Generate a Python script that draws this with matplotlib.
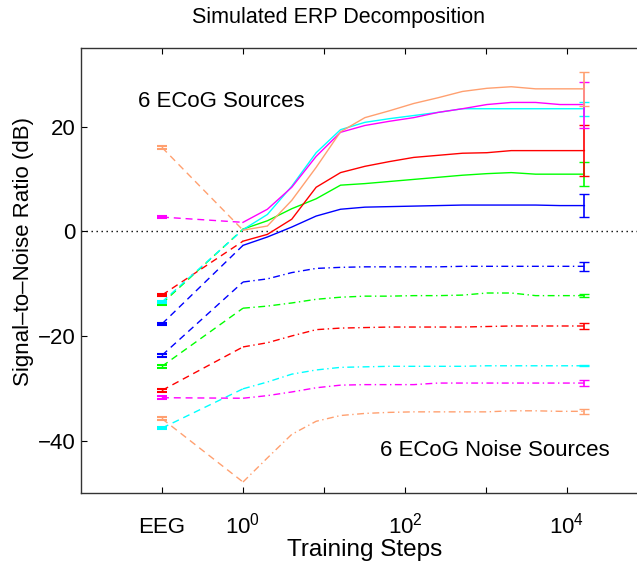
import numpy as np
import matplotlib
matplotlib.use("Agg")
import matplotlib.pyplot as plt

plt.rcParams['font.family'] = ['Liberation Sans', 'DejaVu Sans']
plt.rcParams['mathtext.fontset'] = 'custom'
plt.rcParams['mathtext.rm'] = 'Liberation Sans'

# ---------------- data ----------------
eeg_x = 0.1
steps = [1, 2, 4, 8, 16, 32, 64, 128, 256, 512, 1024, 2048, 4096, 8192, 16384]
series_names = ['blue', 'green', 'red', 'cyan', 'magenta', 'orange']
series_colors = ['#0000ff', '#00ff00', '#ff0000', '#00ffff', '#ff00ff', '#ffa070']

# signal (ECoG sources) SNR in dB
sig_blue = [-2.7, -1.1, 0.8, 2.9, 4.2, 4.6, 4.7, 4.8, 4.9, 5.0, 5.0, 5.0, 5.0, 4.9, 4.9]
sig_green = [0.4, 2.0, 4.3, 6.2, 8.8, 9.1, 9.5, 9.9, 10.3, 10.7, 11.0, 11.2, 10.9, 10.9, 10.9]
sig_red = [-1.9, -0.6, 2.3, 8.4, 11.2, 12.4, 13.3, 14.1, 14.5, 14.9, 15.0, 15.4, 15.4, 15.4, 15.4]
sig_cyan = [0.3, 3.2, 8.6, 15.0, 19.4, 20.8, 21.5, 22.1, 22.7, 23.4, 23.4, 23.4, 23.4, 23.4, 23.4]
sig_magenta = [1.7, 4.2, 8.4, 14.3, 18.9, 20.2, 21.0, 21.7, 22.7, 23.4, 24.2, 24.6, 24.6, 24.2, 24.2]
sig_orange = [0.2, 1.0, 5.9, 12.2, 19.0, 21.7, 23.0, 24.4, 25.5, 26.7, 27.3, 27.6, 27.2, 27.2, 27.2]

# noise (ECoG noise sources) SNR in dB
noise_blue = [-9.7, -9.1, -7.9, -7.1, -6.9, -6.8, -6.8, -6.8, -6.8, -6.7, -6.7, -6.7, -6.7, -6.7, -6.7]
noise_green = [-14.7, -14.3, -13.7, -13.0, -12.6, -12.4, -12.4, -12.3, -12.3, -12.2, -11.8, -11.8, -12.3, -12.3, -12.3]
noise_red = [-22.1, -21.3, -20.0, -18.8, -18.5, -18.4, -18.3, -18.3, -18.3, -18.3, -18.2, -18.1, -18.1, -18.1, -18.1]
noise_cyan = [-30.1, -28.8, -27.3, -26.5, -26.0, -25.9, -25.8, -25.8, -25.8, -25.8, -25.7, -25.7, -25.7, -25.7, -25.7]
noise_magenta = [-31.9, -31.4, -30.7, -29.9, -29.4, -29.3, -29.3, -29.3, -29.0, -29.0, -29.0, -29.0, -29.0, -29.0, -29.0]
noise_orange = [-47.9, -43.3, -38.8, -36.3, -35.2, -34.8, -34.6, -34.5, -34.5, -34.5, -34.5, -34.3, -34.3, -34.4, -34.4]

# EEG (before training) values
sig_eeg = [-17.7, -13.8, -12.2, -13.5, 2.7, 16.0]
noise_eeg = [-23.7, -25.8, -30.4, -37.6, -31.8, -35.8]
eeg_err = [0.25, 0.25, 0.25, 0.25, 0.25, 0.25]

# final error bars (half widths)
sig_err = [2.2, 2.3, 4.8, 1.3, 4.4, 3.3]
noise_err = [0.9, 0.3, 0.6, 0.1, 0.55, 0.5]

signals = [sig_blue, sig_green, sig_red, sig_cyan, sig_magenta, sig_orange]
noises = [noise_blue, noise_green, noise_red, noise_cyan, noise_magenta, noise_orange]

xticks = [0.1, 1, 10, 100, 1000, 10000]
xticklabels = ['EEG', r'$\mathregular{10^{0}}$', '', r'$\mathregular{10^{2}}$', '', r'$\mathregular{10^{4}}$']
yticks = [-40, -20, 0, 20]

# ---------------- figure ----------------
W, H = 637, 565
fig = plt.figure(figsize=(W / 100, H / 100), dpi=100)
left, right, top, bottom = 81, 648, 48, 493
ax = fig.add_axes([left / W, 1 - bottom / H, (right - left) / W, (bottom - top) / H])
ax.set_xscale('log')
ax.set_xlim(0.01, 1e5)
ax.set_ylim(-50, 35)

lw = 1.0
dash = (0, (5, 3.5))
dashdot = (0, (5, 2.5, 1, 2.5))

ax.axhline(0, color='black', lw=1.0, linestyle=(0, (1, 2.6)), zorder=1)

for i, c in enumerate(series_colors):
    s = signals[i]
    n = noises[i]
    ax.plot([eeg_x, steps[0]], [sig_eeg[i], s[0]], color=c, lw=lw, linestyle=dash)
    ax.plot([eeg_x, steps[0]], [noise_eeg[i], n[0]], color=c, lw=lw, linestyle=dash)
    ax.plot(steps, s, color=c, lw=lw, linestyle='-')
    ax.plot(steps, n, color=c, lw=lw, linestyle=dashdot)
    ax.errorbar([eeg_x], [sig_eeg[i]], yerr=[eeg_err[i]], color=c, lw=lw, capsize=3.5, capthick=1.5, fmt='none')
    ax.errorbar([eeg_x], [noise_eeg[i]], yerr=[eeg_err[i]], color=c, lw=lw, capsize=3.5, capthick=1.5, fmt='none')
    ax.errorbar([steps[-1]], [s[-1]], yerr=[sig_err[i]], color=c, lw=1.2, capsize=3.5, fmt='none')
    ax.errorbar([steps[-1]], [n[-1]], yerr=[noise_err[i]], color=c, lw=1.2, capsize=3.5, fmt='none')

ax.set_xticks(xticks)
ax.set_xticklabels(xticklabels)
ax.xaxis.set_minor_locator(matplotlib.ticker.NullLocator())
ax.set_yticks(yticks)
ax.tick_params(axis='both', direction='in', length=4, width=0.8, labelsize=16,
               top=True, right=True)
ax.tick_params(axis='x', pad=29)
ax.tick_params(axis='y', pad=4)
for sp in ax.spines.values():
    sp.set_linewidth(1.0)
    sp.set_color('#333333')

ax.set_xlabel('Training Steps', fontsize=17.5, labelpad=0)
ax.set_ylabel('Signal\u2013to\u2013Noise Ratio (dB)', fontsize=16)
ax.yaxis.set_label_coords(-0.083, 0.542)
ax.xaxis.set_label_coords(0.5, -0.128)
ax.xaxis.label.set_va('center')

ax.text(0.0506, 24.8, '6 ECoG Sources', fontsize=16, ha='left', va='center')
ax.text(49, -41.9, '6 ECoG Noise Sources', fontsize=16, ha='left', va='center')

fig.text(338 / W, 1 - 18 / H, 'Simulated ERP Decomposition', fontsize=15.5, ha='center', va='center')

for t in ax.xaxis.get_major_ticks():
    t.label1.set_va('baseline')

fig.savefig('out.png', dpi=100)
